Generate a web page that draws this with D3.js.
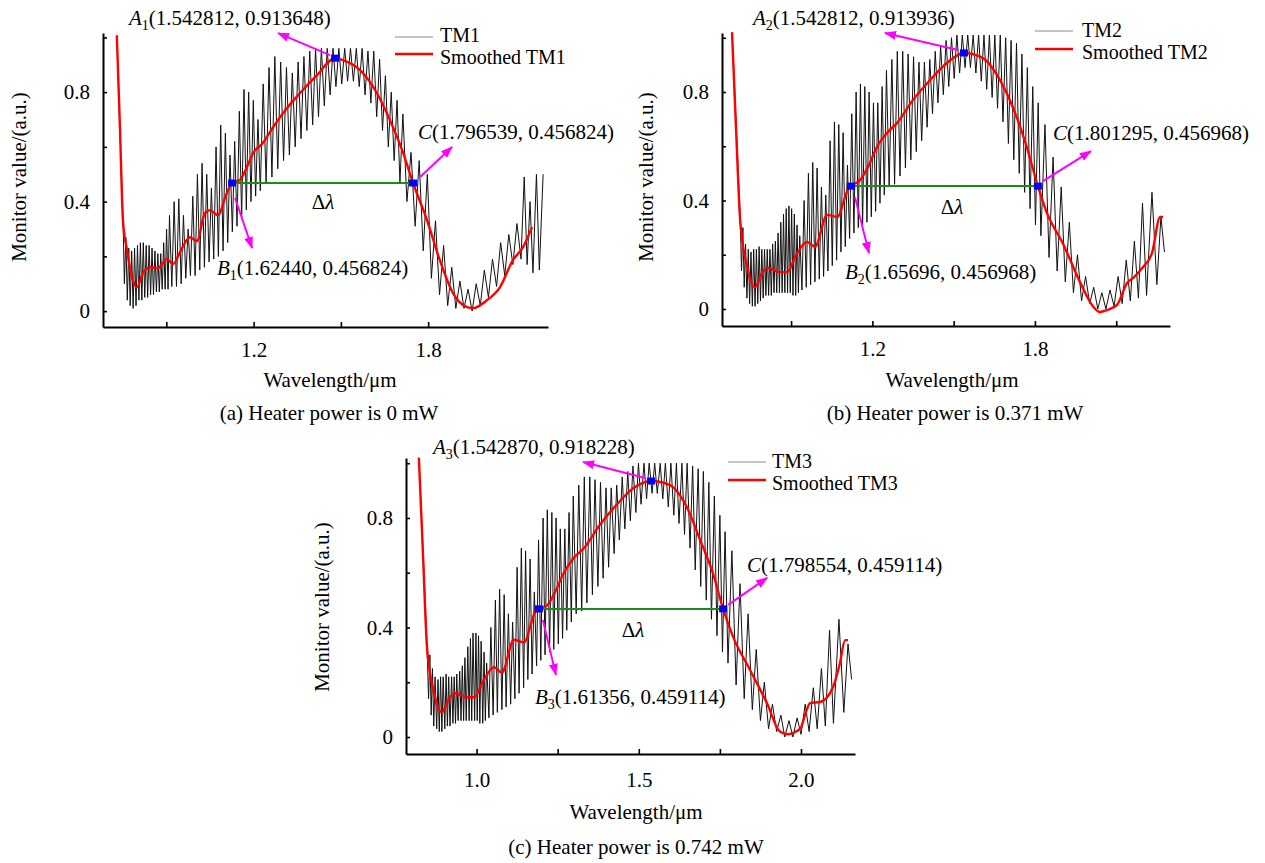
<!DOCTYPE html>
<html><head><meta charset="utf-8">
<script src="https://cdn.jsdelivr.net/npm/d3@7"></script>
<style>
body{margin:0;background:#fff}
svg{display:block}
text{font-family:"Liberation Serif","Times New Roman",serif;fill:#000}
</style>
</head><body>
<svg id="chart" width="1265" height="863"></svg>
<script>
// ---------------- DATA ----------------
// Panel (a): raw monitor trace TM1 (wavelength µm, value a.u.)
const tmA = [
[0.730,1.00],[0.742,0.62],[0.752,0.30],
[0.756,0.10],[0.761,0.27],[0.766,0.04],[0.771,0.23],[0.776,0.02],[0.781,0.22],[0.786,0.01],[0.791,0.23],[0.796,0.02],[0.801,0.24],[0.806,0.04],[0.811,0.25],[0.816,0.04],[0.821,0.25],[0.826,0.05],[0.831,0.24],[0.836,0.05],[0.841,0.24],[0.846,0.06],[0.851,0.23],[0.856,0.06],[0.861,0.22],[0.866,0.07],[0.871,0.21],[0.876,0.07],[0.881,0.21],[0.886,0.08],[0.891,0.25],[0.896,0.08],[0.901,0.30],[0.906,0.08],[0.911,0.35],
[0.919,0.09],[0.927,0.40],[0.935,0.09],[0.943,0.41],[0.951,0.10],[0.959,0.35],[0.967,0.12],[0.975,0.30],[0.983,0.13],[0.991,0.42],[0.999,0.13],[1.007,0.50],[1.015,0.15],[1.023,0.54],[1.031,0.16],[1.039,0.50],[1.047,0.18],[1.055,0.45],[1.063,0.19],[1.071,0.60],[1.079,0.20],[1.087,0.68],[1.095,0.22],[1.103,0.65],[1.111,0.25],[1.119,0.57],[1.127,0.29],[1.135,0.62],[1.143,0.31],[1.151,0.73],[1.159,0.34],[1.167,0.81],[1.175,0.37],[1.183,0.80],[1.191,0.40],[1.199,0.77],[1.207,0.42],[1.215,0.70],[1.223,0.44],
[1.233,0.83],[1.243,0.47],[1.253,0.89],[1.263,0.49],[1.273,0.93],[1.283,0.52],[1.293,0.91],[1.303,0.55],[1.313,0.89],[1.323,0.57],[1.333,0.87],[1.343,0.60],[1.353,0.91],[1.363,0.63],[1.373,0.93],[1.383,0.66],[1.393,0.95],[1.403,0.68],[1.413,0.96],[1.423,0.71],[1.433,0.96],[1.443,0.75],[1.453,0.96],[1.463,0.79],[1.473,0.96],[1.483,0.82],[1.493,0.96],[1.503,0.83],[1.513,0.96],[1.523,0.84],[1.533,0.96],[1.543,0.84],[1.553,0.96],[1.563,0.82],[1.573,0.96],[1.583,0.79],[1.593,0.95],[1.603,0.76],[1.613,0.95],[1.623,0.71],[1.633,0.92],[1.643,0.66],[1.653,0.86],[1.663,0.60],[1.673,0.80],[1.683,0.55],[1.693,0.77],[1.703,0.47],
[1.713,0.72],[1.727,0.40],[1.741,0.58],[1.755,0.31],[1.769,0.55],[1.783,0.22],[1.797,0.50],[1.811,0.12],[1.825,0.33],[1.839,0.06],[1.853,0.24],[1.867,0.02],[1.881,0.16],[1.895,0.01],[1.909,0.11],[1.923,0.01],[1.937,0.08],[1.951,0.00],[1.965,0.10],[1.979,0.02],[1.993,0.15],[2.007,0.05],[2.021,0.19],[2.035,0.09],[2.049,0.25],[2.063,0.13],[2.077,0.28],[2.091,0.17],[2.105,0.32],[2.119,0.19],[2.130,0.49],[2.140,0.17],[2.150,0.40],[2.160,0.14],[2.172,0.50],[2.182,0.15],[2.195,0.50]
];
const smoothA = [[0.730,1.008],[0.741,0.661],[0.751,0.332],[0.765,0.223],[0.782,0.124],[0.799,0.088],[0.820,0.139],[0.844,0.161],[0.871,0.157],[0.902,0.190],[0.923,0.172],[0.954,0.230],[0.981,0.270],[1.005,0.256],[1.033,0.358],[1.050,0.369],[1.077,0.351],[1.108,0.431],[1.126,0.468],[1.153,0.479],[1.177,0.526],[1.198,0.577],[1.232,0.614],[1.256,0.654],[1.301,0.723],[1.359,0.796],[1.418,0.862],[1.480,0.924],[1.507,0.917],[1.566,0.880],[1.624,0.796],[1.679,0.672],[1.710,0.590],[1.748,0.468],[1.796,0.332],[1.840,0.186],[1.885,0.066],[1.933,0.015],[1.954,0.011],[2.002,0.040],[2.047,0.088],[2.091,0.186],[2.126,0.234],[2.157,0.307]];
const pointsA = [[1.480,0.924],[1.126,0.468],[1.748,0.468]];   // A1, B1, C
const textA = ["1","(1.542812, 0.913648)","(1.62440, 0.456824)","(1.796539, 0.456824)"];

// Panel (b)
const tmB = [
[0.682,1.02],[0.700,0.62],[0.712,0.34],
[0.717,0.14],[0.722,0.30],[0.727,0.08],[0.732,0.24],[0.737,0.04],[0.742,0.22],[0.747,0.02],[0.752,0.21],[0.757,0.01],[0.762,0.22],[0.767,0.01],[0.772,0.22],[0.777,0.02],[0.782,0.23],[0.787,0.03],[0.792,0.22],[0.797,0.04],[0.802,0.22],[0.807,0.05],[0.812,0.22],[0.817,0.05],[0.822,0.22],[0.827,0.05],[0.832,0.24],[0.837,0.06],[0.842,0.25],[0.847,0.06],[0.852,0.28],[0.857,0.06],[0.862,0.32],[0.867,0.06],[0.872,0.35],[0.877,0.06],[0.882,0.37],[0.887,0.06],[0.892,0.38],[0.897,0.06],[0.902,0.37],[0.907,0.05],[0.912,0.35],[0.917,0.05],[0.922,0.31],[0.927,0.06],[0.932,0.27],
[0.940,0.07],[0.948,0.40],[0.956,0.08],[0.964,0.50],[0.972,0.09],[0.980,0.54],[0.988,0.10],[0.996,0.52],[1.004,0.11],[1.012,0.45],[1.020,0.12],[1.028,0.42],[1.036,0.14],[1.044,0.62],[1.052,0.16],[1.060,0.69],[1.068,0.18],[1.076,0.68],[1.084,0.21],[1.092,0.65],[1.100,0.23],[1.108,0.53],[1.116,0.26],[1.124,0.72],[1.132,0.28],[1.140,0.80],[1.148,0.30],[1.156,0.83],[1.164,0.31],[1.172,0.82],[1.180,0.32],[1.188,0.80],[1.196,0.34],[1.204,0.76],[1.212,0.36],[1.220,0.76],[1.228,0.39],[1.236,0.82],[1.244,0.42],[1.252,0.88],
[1.262,0.45],[1.272,0.92],[1.282,0.46],[1.292,0.95],[1.302,0.49],[1.312,0.95],[1.322,0.52],[1.332,0.94],[1.342,0.55],[1.352,0.93],[1.362,0.58],[1.372,0.91],[1.382,0.62],[1.392,0.91],[1.402,0.67],[1.412,0.92],[1.422,0.72],[1.432,0.95],[1.442,0.76],[1.452,0.97],[1.462,0.79],[1.472,0.99],[1.482,0.82],[1.492,1.00],[1.502,0.85],[1.512,1.01],[1.522,0.87],[1.532,1.01],[1.542,0.89],[1.552,1.01],[1.562,0.89],[1.572,1.01],[1.582,0.87],[1.592,1.01],[1.602,0.84],[1.612,1.01],[1.622,0.81],[1.632,1.01],[1.642,0.78],[1.652,1.01],[1.662,0.74],[1.672,1.01],[1.682,0.69],[1.692,1.00],[1.702,0.61],[1.712,0.99],[1.722,0.55],[1.732,0.98],[1.742,0.50],[1.752,0.94],[1.762,0.43],[1.772,0.89],[1.782,0.37],[1.792,0.82],[1.802,0.31],[1.812,0.76],
[1.822,0.27],[1.837,0.68],[1.852,0.19],[1.867,0.56],[1.882,0.14],[1.897,0.45],[1.912,0.10],[1.927,0.32],[1.942,0.06],[1.957,0.20],[1.972,0.03],[1.987,0.12],[2.002,0.02],[2.017,0.08],[2.032,0.00],[2.047,0.06],[2.062,0.00],[2.077,0.07],[2.092,0.01],[2.107,0.12],[2.122,0.02],[2.137,0.18],[2.152,0.03],[2.167,0.25],[2.182,0.04],[2.197,0.39],[2.212,0.05],[2.232,0.43],[2.250,0.09],[2.265,0.34],[2.278,0.21]
];
const smoothB = [[0.682,1.02],[0.697,0.66],[0.712,0.328],[0.738,0.155],[0.767,0.081],[0.793,0.133],[0.815,0.151],[0.859,0.136],[0.885,0.136],[0.922,0.206],[0.959,0.247],[0.988,0.229],[1.033,0.347],[1.070,0.339],[1.110,0.440],[1.121,0.453],[1.155,0.476],[1.184,0.524],[1.217,0.597],[1.254,0.649],[1.291,0.686],[1.350,0.771],[1.413,0.844],[1.475,0.907],[1.538,0.944],[1.608,0.925],[1.671,0.844],[1.720,0.740],[1.766,0.610],[1.811,0.453],[1.842,0.360],[1.904,0.240],[1.966,0.100],[2.014,0.010],[2.040,-0.011],[2.066,-0.004],[2.103,0.015],[2.140,0.096],[2.162,0.114],[2.199,0.155],[2.232,0.206],[2.262,0.339],[2.273,0.339]];
const pointsB = [[1.538,0.944],[1.121,0.453],[1.811,0.453]];
const textB = ["2","(1.542812, 0.913936)","(1.65696, 0.456968)","(1.801295, 0.456968)"];

// Panel (c)
const tmC = [
[0.822,1.02],[0.837,0.62],[0.847,0.34],
[0.852,0.14],[0.856,0.30],[0.860,0.08],[0.864,0.25],[0.868,0.04],[0.872,0.22],[0.877,0.03],[0.881,0.21],[0.885,0.02],[0.889,0.22],[0.893,0.02],[0.897,0.22],[0.902,0.03],[0.906,0.23],[0.910,0.04],[0.914,0.22],[0.918,0.04],[0.923,0.22],[0.927,0.05],[0.931,0.22],[0.935,0.05],[0.939,0.23],[0.943,0.06],[0.948,0.24],[0.952,0.06],[0.956,0.26],[0.960,0.06],[0.964,0.29],[0.968,0.06],[0.973,0.33],[0.977,0.06],[0.981,0.36],[0.985,0.06],[0.989,0.38],[0.994,0.06],[0.998,0.38],[1.002,0.06],[1.006,0.37],[1.010,0.05],[1.014,0.35],[1.019,0.05],[1.023,0.31],[1.027,0.06],[1.031,0.27],
[1.038,0.07],[1.044,0.40],[1.051,0.08],[1.058,0.50],[1.064,0.09],[1.071,0.54],[1.078,0.10],[1.085,0.52],[1.091,0.11],[1.098,0.45],[1.105,0.12],[1.111,0.42],[1.118,0.14],[1.125,0.62],[1.131,0.16],[1.138,0.69],[1.145,0.18],[1.151,0.68],[1.158,0.21],[1.165,0.65],[1.171,0.23],[1.178,0.53],[1.185,0.26],[1.191,0.72],[1.198,0.28],[1.205,0.80],[1.211,0.30],[1.218,0.83],[1.225,0.31],[1.232,0.82],[1.238,0.32],[1.245,0.80],[1.252,0.34],[1.258,0.76],[1.265,0.36],[1.272,0.76],[1.278,0.39],[1.285,0.82],[1.292,0.42],[1.298,0.88],
[1.307,0.45],[1.315,0.92],[1.324,0.46],[1.332,0.95],[1.340,0.49],[1.349,0.95],[1.357,0.52],[1.365,0.94],[1.374,0.55],[1.382,0.93],[1.390,0.58],[1.399,0.91],[1.407,0.62],[1.415,0.91],[1.424,0.67],[1.432,0.92],[1.440,0.72],[1.449,0.95],[1.457,0.76],[1.466,0.97],[1.474,0.79],[1.482,0.99],[1.491,0.82],[1.499,1.00],[1.507,0.85],[1.516,1.00],[1.524,0.87],[1.532,1.00],[1.541,0.89],[1.549,1.00],[1.557,0.89],[1.566,1.00],[1.574,0.87],[1.582,1.00],[1.591,0.84],[1.599,1.00],[1.608,0.81],[1.616,1.00],[1.624,0.78],[1.633,1.00],[1.641,0.74],[1.649,1.00],[1.658,0.69],[1.666,0.99],[1.674,0.61],[1.683,0.98],[1.691,0.55],[1.699,0.97],[1.708,0.50],[1.716,0.93],[1.724,0.43],[1.733,0.88],[1.741,0.37],[1.750,0.81],[1.758,0.31],[1.766,0.75],
[1.775,0.27],[1.787,0.68],[1.800,0.19],[1.812,0.56],[1.825,0.14],[1.837,0.45],[1.850,0.10],[1.862,0.32],[1.875,0.06],[1.887,0.20],[1.900,0.03],[1.912,0.12],[1.925,0.02],[1.938,0.08],[1.950,0.00],[1.963,0.06],[1.975,0.00],[1.988,0.07],[2.000,0.01],[2.013,0.12],[2.025,0.02],[2.038,0.18],[2.050,0.03],[2.063,0.25],[2.075,0.04],[2.088,0.39],[2.100,0.05],[2.117,0.43],[2.132,0.09],[2.145,0.34],[2.156,0.21]
];
const smoothC = [[0.822,1.02],[0.835,0.66],[0.847,0.33],[0.869,0.16],[0.893,0.09],[0.915,0.14],[0.933,0.16],[0.970,0.145],[0.992,0.145],[1.023,0.21],[1.054,0.255],[1.078,0.235],[1.115,0.355],[1.146,0.345],[1.180,0.455],[1.192,0.468],[1.217,0.48],[1.242,0.53],[1.269,0.60],[1.300,0.655],[1.331,0.69],[1.380,0.775],[1.433,0.85],[1.485,0.91],[1.538,0.935],[1.596,0.92],[1.648,0.84],[1.689,0.72],[1.728,0.60],[1.760,0.468],[1.791,0.365],[1.843,0.245],[1.895,0.124],[1.935,0.02],[1.960,0.01],[1.985,0.02],[2.000,0.035],[2.015,0.09],[2.028,0.124],[2.059,0.128],[2.099,0.183],[2.120,0.27],[2.136,0.354],[2.145,0.354]];
const pointsC = [[1.538,0.935],[1.192,0.468],[1.760,0.468]];
const textC = ["3","(1.542870, 0.918228)","(1.61356, 0.459114)","(1.798554, 0.459114)"];

// Axis ticks & labels
const xTicksA = [0.9, 1.2, 1.5, 1.8];
const xTicksB = [0.9, 1.2, 1.5, 1.8, 2.1];
const xLabelsAB = [1.2, 1.8];
const xTicksC = [1.0, 1.25, 1.5, 1.75, 2.0];
const xLabelsC = [1.0, 1.5, 2.0];
const yTicks = [0, 0.2, 0.4, 0.6, 0.8, 1.0];
const yLabels = [0, 0.4, 0.8];
const captions = ["(a) Heater power is 0 mW", "(b) Heater power is 0.371 mW", "(c) Heater power is 0.742 mW"];
const seriesNames = [["TM1","Smoothed TM1"],["TM2","Smoothed TM2"],["TM3","Smoothed TM3"]];

// ---------------- LAYOUT ----------------
const panels = [
 {tm:tmA, sm:smoothA, pts:pointsA, txt:textA, xTicks:xTicksA, xLabels:xLabelsAB, cap:captions[0], names:seriesNames[0],
  x0:103,x1:548,yT:33,yB:327, xDom:[0.6825,2.2117], yDom:[-0.058,1.016], xPad:15,
  yTitle:[19,177], xTitle:[330,380], caption:[329,413],
  leg:{lx0:395,lx1:433,tx:440,ly:[37,54],ty:[35,57]},
  lblA:[129,18], lblB:[217,268], lblC:[418,132], dl:[323,202],
  arA:[[-5,-3],[-57,-25]], arB:[[3,15],[20,65]], arC:[[7,-6],[39,-36]]},
 {tm:tmB, sm:smoothB, pts:pointsB, txt:textB, xTicks:xTicksB, xLabels:xLabelsAB, cap:captions[1], names:seriesNames[1],
  x0:722,x1:1170,yT:33,yB:326, xDom:[0.645,2.2985], yDom:[-0.0627,1.0175], xPad:15,
  yTitle:[646,177], xTitle:[952,380], caption:[955,413],
  leg:{lx0:1035,lx1:1073,tx:1082,ly:[31,49],ty:[30,52]},
  lblA:[753,18], lblB:[845,272], lblC:[1053,133], dl:[952,207],
  arA:[[-6,-3],[-79,-20]], arB:[[4,11],[18,67]], arC:[[5,-5],[53,-35]]},
 {tm:tmC, sm:smoothC, pts:pointsC, txt:textC, xTicks:xTicksC, xLabels:xLabelsC, cap:captions[2], names:seriesNames[2],
  x0:406,x1:855,yT:458,yB:754, xDom:[0.7824,2.1665], yDom:[-0.062,1.019], xPad:18,
  yTitle:[322,607], xTitle:[636,812], caption:[636,847],
  leg:{lx0:728,lx1:766,tx:772,ly:[462,480],ty:[461,483]},
  lblA:[433,447], lblB:[535,697], lblC:[747,565], dl:[633,630],
  arA:[[-6,-3],[-68,-19]], arB:[[4,11],[17,66]], arC:[[5,-4],[44,-31]]}
];

const FS = 21;
const svg = d3.select("#chart");
svg.append("rect").attr("width",1265).attr("height",863).attr("fill","#fff");
const defs = svg.append("defs");
defs.append("marker").attr("id","ah").attr("viewBox","0 0 12 9").attr("refX",11).attr("refY",4.5)
  .attr("markerWidth",12).attr("markerHeight",9).attr("markerUnits","userSpaceOnUse").attr("orient","auto")
  .append("path").attr("d","M0,0 L12,4.5 L0,9 z").attr("fill","#ff00ff");

const fmt = d => d === 0 ? "0" : d.toFixed(1);
const near = (arr, d) => arr.some(v => Math.abs(v - d) < 1e-9);

panels.forEach(p => {
  const g = svg.append("g");
  const x = d3.scaleLinear().domain(p.xDom).range([p.x0, p.x1]);
  const y = d3.scaleLinear().domain(p.yDom).range([p.yB, p.yT]);

  // raw trace
  g.append("path").datum(p.tm)
    .attr("d", d3.line().x(d=>x(d[0])).y(d=>y(d[1])))
    .attr("fill","none").attr("stroke","#111").attr("stroke-width",1).attr("stroke-linejoin","round");
  // smoothed
  g.append("path").datum(p.sm)
    .attr("d", d3.line().x(d=>x(d[0])).y(d=>y(d[1])).curve(d3.curveMonotoneX))
    .attr("fill","none").attr("stroke","#ff0000").attr("stroke-width",2.4);

  // axes
  const xa = d3.axisBottom(x).tickValues(p.xTicks).tickSizeInner(-5).tickSizeOuter(0).tickPadding(p.xPad)
    .tickFormat(d => near(p.xLabels, d) ? fmt(d) : "");
  const gx = g.append("g").attr("transform",`translate(0,${p.yB})`).call(xa);
  const ya = d3.axisLeft(y).tickValues(yTicks).tickSizeInner(-4).tickSizeOuter(0).tickPadding(13)
    .tickFormat(d => near(yLabels, d) ? fmt(d) : "");
  const gy = g.append("g").attr("transform",`translate(${p.x0},0)`).call(ya);
  [gx, gy].forEach(a => {
    a.attr("font-family",'"Liberation Serif","Times New Roman",serif').attr("font-size",FS);
    a.select(".domain").attr("stroke","#000").attr("stroke-width",2);
    a.selectAll(".tick line").attr("stroke","#000").attr("stroke-width",1.6);
    a.selectAll(".tick text").attr("fill","#000");
  });

  // green Δλ line
  const [A, B, C] = p.pts;
  g.append("line").attr("x1",x(B[0])).attr("y1",y(B[1])).attr("x2",x(C[0])).attr("y2",y(C[1]))
    .attr("stroke","#1a8c1a").attr("stroke-width",2);
  // markers
  g.selectAll("rect.pt").data(p.pts).join("rect").attr("class","pt")
    .attr("x", d=>x(d[0])-4).attr("y", d=>y(d[1])-3.5).attr("width",8).attr("height",7).attr("fill","#0000ff");
  // arrows
  [[A,p.arA],[B,p.arB],[C,p.arC]].forEach(([pt, ar]) => {
    const px = x(pt[0]), py = y(pt[1]);
    g.append("line").attr("x1",px+ar[0][0]).attr("y1",py+ar[0][1]).attr("x2",px+ar[1][0]).attr("y2",py+ar[1][1])
      .attr("stroke","#ff00ff").attr("stroke-width",2).attr("marker-end","url(#ah)");
  });

  // annotation labels
  const lab = (pos, letter, sub, rest) => {
    const t = g.append("text").attr("x",pos[0]).attr("y",pos[1]+7).attr("font-size",FS);
    t.append("tspan").attr("font-style","italic").text(letter);
    if (sub) {
      t.append("tspan").attr("font-size",14).attr("dy",5).text(sub);
      t.append("tspan").attr("dy",-5).text(rest);
    } else {
      t.append("tspan").text(rest);
    }
  };
  lab(p.lblA, "A", p.txt[0], p.txt[1]);
  lab(p.lblB, "B", p.txt[0], p.txt[2]);
  lab(p.lblC, "C", null, p.txt[3]);
  const dl = g.append("text").attr("x",p.dl[0]).attr("y",p.dl[1]+7).attr("font-size",FS).attr("text-anchor","middle");
  dl.append("tspan").text("Δ");
  dl.append("tspan").attr("font-style","italic").text("λ");

  // legend
  g.append("line").attr("x1",p.leg.lx0).attr("x2",p.leg.lx1).attr("y1",p.leg.ly[0]).attr("y2",p.leg.ly[0])
    .attr("stroke","#8c8c8c").attr("stroke-width",1.2);
  g.append("line").attr("x1",p.leg.lx0).attr("x2",p.leg.lx1).attr("y1",p.leg.ly[1]).attr("y2",p.leg.ly[1])
    .attr("stroke","#ff0000").attr("stroke-width",2.4);
  p.names.forEach((n,i) => g.append("text").attr("x",p.leg.tx).attr("y",p.leg.ty[i]+7).attr("font-size",20).text(n));

  // titles
  g.append("text").attr("transform",`translate(${p.yTitle[0]},${p.yTitle[1]}) rotate(-90)`)
    .attr("text-anchor","middle").attr("dy","0.33em").attr("font-size",FS).text("Monitor value/(a.u.)");
  g.append("text").attr("x",p.xTitle[0]).attr("y",p.xTitle[1]).attr("dy","0.33em")
    .attr("text-anchor","middle").attr("font-size",FS).text("Wavelength/μm");
  g.append("text").attr("x",p.caption[0]).attr("y",p.caption[1]).attr("dy","0.33em")
    .attr("text-anchor","middle").attr("font-size",FS).text(p.cap);
});
</script>
</body></html>
